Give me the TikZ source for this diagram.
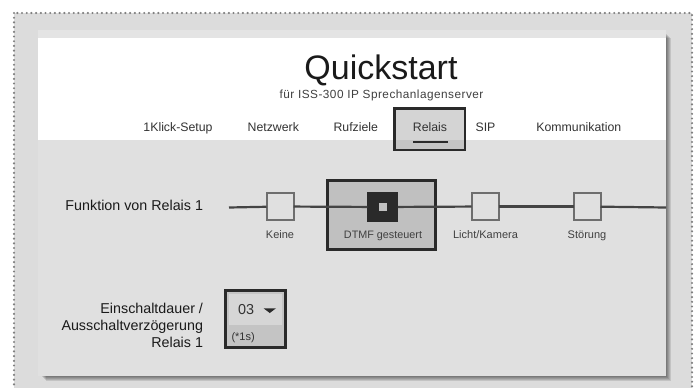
\documentclass[tikz,border=0pt]{standalone}
\usepackage{fontspec}
\setmainfont{Liberation Sans}
\newfontfamily\spacedfont[LetterSpace=4]{Liberation Sans}
\definecolor{outerbg}{HTML}{DCDCDC}
\definecolor{bodygray}{HTML}{E0E0E0}
\definecolor{stripgray}{HTML}{E4E4E4}
\definecolor{darktxt}{HTML}{1A1A1A}
\definecolor{txtgray}{HTML}{333333}
\definecolor{labgray}{HTML}{404040}
\definecolor{boxgray}{HTML}{6E6E6E}
\definecolor{linegray}{HTML}{444444}
\definecolor{selfill}{HTML}{C0C0C0}
\definecolor{seldark}{HTML}{2A2A2A}
\definecolor{droptop}{HTML}{D6D6D6}
\definecolor{dropbot}{HTML}{C4C4C4}
\definecolor{tabtop}{HTML}{D4D4D4}
\definecolor{tabbot}{HTML}{C4C4C4}
\definecolor{dotcol}{HTML}{808080}
\begin{document}
\begin{tikzpicture}[x=1pt,y=-1pt,
  every node/.style={inner sep=0pt,outer sep=0pt},
  tabtext/.style={font=\fontsize{12.3}{14}\selectfont,text=txtgray,anchor=base},
  optbox/.style={draw=boxgray,line width=2pt,fill=bodygray,minimum width=27pt,minimum height=27pt},
  optlabel/.style={font=\fontsize{11}{13}\selectfont,text=labgray,anchor=base},
  formlabel/.style={font=\fontsize{14.3}{17}\selectfont,text=darktxt,align=right},
  connline/.style={draw=linegray,line width=2.2pt}
]
\useasboundingbox (0,0) rectangle (696,388);
\clip (0,0) rectangle (696,388);
% outer background
\fill[outerbg] (14,13) rectangle (692,400);
\draw[dotcol,line width=2.4pt,line cap=round,dash pattern=on 0pt off 4.7pt] (14,13) rectangle (692,420);
% card shadow
\foreach \i in {1,...,6}{
  \fill[black,opacity=0.11] (40+\i,32+\i) rectangle (665+\i,375+\i);
}
% card
\fill[stripgray] (38,30) rectangle (666,38);
\fill[white] (38,38) rectangle (666,140);
\fill[bodygray] (38,140) rectangle (666,376);
% header
\node[font=\fontsize{34}{38}\selectfont,text=darktxt,anchor=base] (title) at (381,79) {Quickstart};
\node[font=\spacedfont\fontsize{11.8}{13}\selectfont,text=labgray,anchor=base] (subtitle) at (381.5,98) {für ISS-300 IP Sprechanlagenserver};
% selected tab
\fill[tabtop] (394.3,108.3) rectangle (465,140);
\fill[tabbot] (394.3,140) rectangle (465,150);
\draw[seldark,line width=2.5pt] (394.3,108.3) rectangle (465,150);
\draw[seldark,line width=2pt] (413,141.7) -- (447.7,141.7);
% tabs
\node[tabtext] (t1) at (178,131) {1Klick-Setup};
\node[tabtext] (t2) at (273.3,131) {Netzwerk};
\node[tabtext] (t3) at (355.8,131) {Rufziele};
\node[tabtext] (t4) at (430,131) {Relais};
\node[tabtext] (t5) at (485.5,131) {SIP};
\node[tabtext] (t6) at (578.8,131) {Kommunikation};
% relay function row
\node[formlabel,anchor=base east] (funk) at (203,210) {Funktion von Relais 1};
\node[draw=seldark,line width=3pt,fill=selfill,minimum width=108pt,minimum height=69pt] (dtmfsel) at (381.5,215) {};
\coordinate (lstart) at (229,207.5);
\coordinate (lend) at (666,207.5);
\node[optbox] (keine) at (280,206.5) {};
\node[fill=seldark,minimum width=30.5pt,minimum height=30.5pt] (dtmfsq) at (382.7,207) {};
\node[fill=selfill,minimum width=7.7pt,minimum height=7.7pt] (dtmfdot) at (382.8,207.2) {};
\node[optbox] (licht) at (485,206.5) {};
\node[optbox] (stoer) at (587,206.5) {};
\draw[connline] (lstart) -- (keine);
\draw[connline] (keine) -- (dtmfsq);
\draw[connline] (dtmfsq) -- (licht);
\draw[connline] (licht) -- (stoer);
\draw[connline] (stoer) -- (lend);
\node[optlabel] (lkeine) at (280,238) {Keine};
\node[optlabel,font=\fontsize{10.8}{13}\selectfont] (ldtmf) at (383,238) {DTMF gesteuert};
\node[optlabel] (llicht) at (485.5,238) {Licht/Kamera};
\node[optlabel] (lstoer) at (587,238) {Störung};
% duration row
\node[formlabel,anchor=north east] (dauer) at (203,303.5) {Einschaltdauer /\\Ausschaltverzögerung\\Relais 1};
\node[draw=seldark,line width=3pt,fill=dropbot,minimum width=59.5pt,minimum height=57.5pt] (drop) at (255.5,319.2) {};
\fill[droptop] (229.3,293.5) rectangle (281.7,325);
\node[font=\fontsize{14.4}{16}\selectfont,text=txtgray,anchor=base west] (dropval) at (238,314.3) {03};
\fill[seldark] (263.5,308.3) -- (276,308.3) -- (269.75,313) -- cycle;
\node[font=\fontsize{11}{13}\selectfont,text=txtgray,anchor=base west] (dropunit) at (231.5,340) {(*1s)};
\end{tikzpicture}
\end{document}
